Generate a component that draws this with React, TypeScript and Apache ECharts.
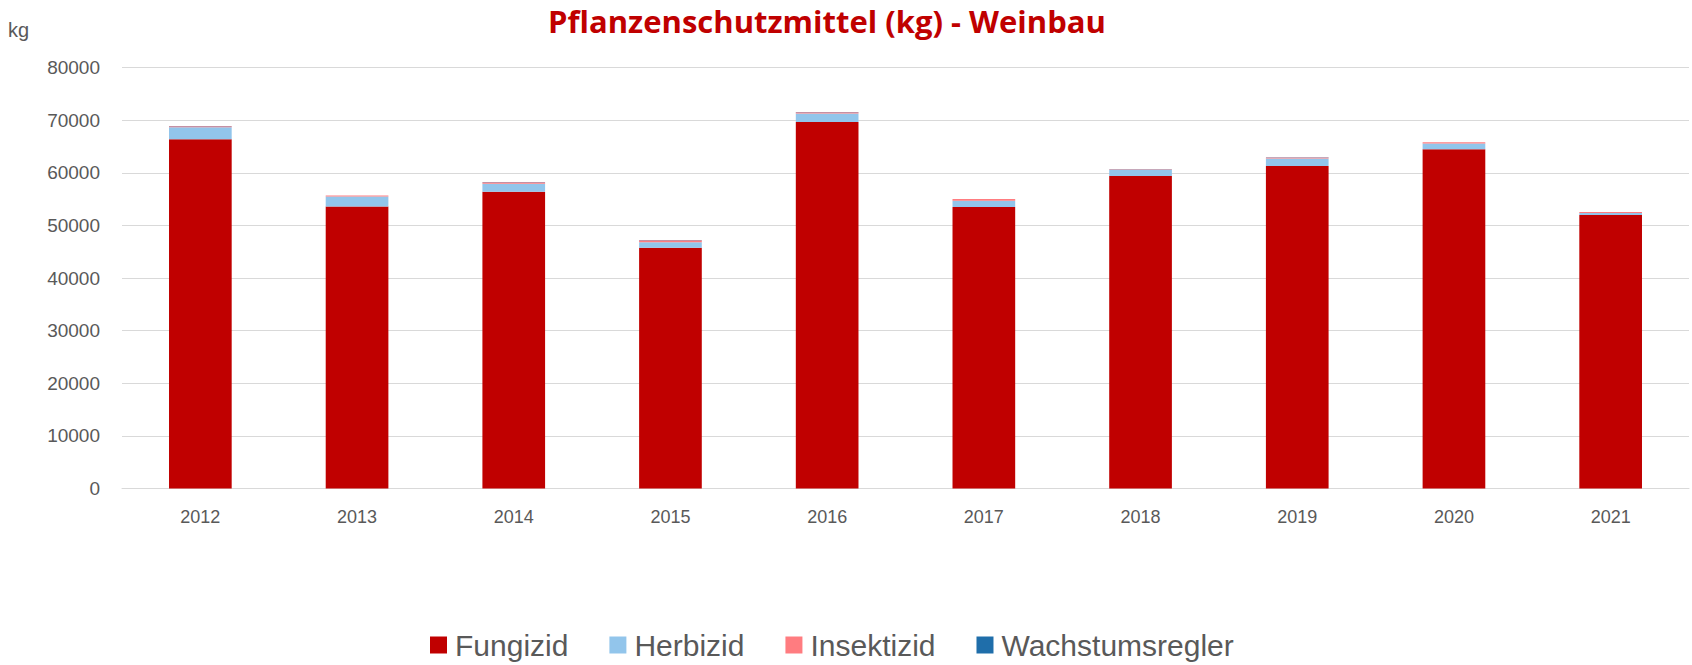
import React, { useEffect, useRef } from "react";
import * as echarts from "echarts";

const years = ["2012", "2013", "2014", "2015", "2016", "2017", "2018", "2019", "2020", "2021"];
const fungizid = [66400, 53600, 56400, 45750, 69700, 53500, 59400, 61300, 64500, 52000];
const herbizid = [2280, 1900, 1520, 1080, 1600, 1200, 1140, 1460, 1080, 380];
const insektizid = [200, 200, 320, 380, 250, 320, 130, 190, 250, 190];
const wachstumsregler = [30, 20, 20, 20, 20, 20, 20, 20, 20, 20];

const yTicks = [0, 10000, 20000, 30000, 40000, 50000, 60000, 70000, 80000];

export default function App() {
  const ref = useRef<HTMLDivElement>(null);
  useEffect(() => {
    if (!ref.current) return;
    const chart = echarts.init(ref.current, undefined, { renderer: "svg" });
    const font = "Liberation Sans, Arial, sans-serif";
    const mk = (name: string, data: number[], color: string) => ({
      name,
      type: "bar",
      stack: "total",
      data,
      barWidth: "40%",
      itemStyle: { color },
    });
    chart.setOption({
      animation: false,
      backgroundColor: "#ffffff",
      textStyle: { fontFamily: font },
      title: {
        text: "Pflanzenschutzmittel (kg) - Weinbau",
        left: 822,
        textAlign: "center",
        top: 0,
        textStyle: { color: "#C00000", fontSize: 31, fontWeight: "bold", fontFamily: "Open Sans, sans-serif" },
      },
      graphic: [
        {
          type: "text",
          left: 8,
          top: 20,
          style: { text: "kg", fontSize: 20, fill: "#595959", fontFamily: font },
        },
      ],
      legend: {
        bottom: 0,
        left: 425,
        itemWidth: 17,
        itemHeight: 17,
        itemGap: 41,
        icon: "rect",
        textStyle: { fontSize: 30, color: "#595959", fontFamily: font, padding: [0, 0, 0, 3] },
        data: ["Fungizid", "Herbizid", "Insektizid", "Wachstumsregler"],
      },
      grid: { left: 122, right: 3, top: 67.7, bottom: 176.5, containLabel: false },
      xAxis: {
        type: "category",
        data: years,
        axisTick: { show: false },
        axisLine: { lineStyle: { color: "#d9d9d9" } },
        axisLabel: { color: "#595959", fontSize: 18, margin: 19 },
      },
      yAxis: {
        type: "value",
        min: yTicks[0],
        max: yTicks[yTicks.length - 1],
        interval: 10000,
        axisLine: { show: false },
        axisTick: { show: false },
        splitLine: { lineStyle: { color: "#d9d9d9" } },
        axisLabel: { color: "#595959", fontSize: 19, margin: 22, formatter: (v: number) => String(v) },
      },
      series: [
        mk("Fungizid", fungizid, "#C00000"),
        mk("Herbizid", herbizid, "#92C5EB"),
        mk("Insektizid", insektizid, "#FF7C80"),
        mk("Wachstumsregler", wachstumsregler, "#1F6EAA"),
      ],
    });
    return () => chart.dispose();
  }, []);
  return (
    <div
      ref={ref}
      style={{ position: "fixed", left: 0, top: 0, width: 1692, height: 665 }}
    />
  );
}
